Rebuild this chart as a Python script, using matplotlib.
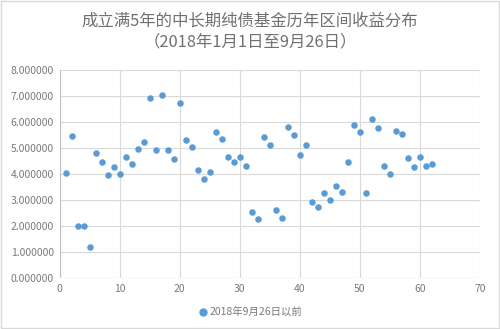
import matplotlib.pyplot as plt
from matplotlib.lines import Line2D
from matplotlib.patches import Rectangle

plt.rcParams['font.family'] = ['Noto Sans CJK SC', 'DejaVu Sans']

# 区间序号与区间收益 (%)
idx = list(range(1, 63))
returns = [
    4.03, 5.45, 2.00, 2.00, 1.20, 4.82, 4.46, 3.95, 4.28, 4.01,
    4.64, 4.37, 4.97, 5.24, 6.92, 4.92, 7.03, 4.92, 4.56, 6.72,
    5.32, 5.05, 4.15, 3.79, 4.09, 5.62, 5.36, 4.64, 4.47, 4.67,
    4.31, 2.54, 2.27, 5.41, 5.10, 2.60, 2.32, 5.81, 5.51, 4.73,
    5.13, 2.94, 2.73, 3.26, 3.00, 3.54, 3.32, 4.46, 5.90, 5.63,
    3.26, 6.13, 5.76, 4.32, 4.01, 5.65, 5.53, 4.63, 4.28, 4.65,
    4.30, 4.40,
]
series_name = '2018年9月26日以前'
title = '成立满5年的中长期纯债基金历年区间收益分布\n（2018年1月1日至9月26日）'

blue = '#5B9BD5'
grid = '#D9D9D9'
text_c = '#707070'

fig = plt.figure(figsize=(5, 3.29), dpi=100)
ax = fig.add_axes([59.5 / 500, 1 - 278 / 329, (480 - 59.5) / 500, (278 - 70) / 329])

ax.scatter(idx, returns, s=22, color=blue, zorder=3, linewidths=0)

ax.set_xlim(0, 70)
ax.set_ylim(0, 8)
ax.set_xticks(range(0, 71, 10))
ax.set_yticks(range(0, 9))
ax.set_yticklabels([f'{v:.6f}' for v in range(0, 9)])
ax.grid(True, color=grid, linewidth=0.8)
ax.set_axisbelow(True)
for s in ax.spines.values():
    s.set_visible(False)
ax.axhline(0, color='#BFBFBF', linewidth=0.8, zorder=2)
ax.axvline(0, color='#BFBFBF', linewidth=0.8, zorder=2)
ax.tick_params(length=0, labelsize=7.5, labelcolor='#7A7A7A', pad=4)

fig.text(0.5, 1 - 31.5 / 329, title, ha='center', va='center',
         fontsize=11.8, color=text_c, linespacing=1.35)

handle = Line2D([], [], marker='o', linestyle='', color=blue, markersize=5)
fig.legend([handle], [series_name], loc='center', bbox_to_anchor=(0.5, 1 - 312 / 329),
           frameon=False, fontsize=7.5, labelcolor='#7A7A7A', handletextpad=0.1,
           handlelength=1)

fig.patches.append(Rectangle((0.002, 0.003), 0.995, 0.994, transform=fig.transFigure,
                             fill=False, edgecolor='#D9D9D9', linewidth=1))

fig.savefig('out.png', dpi=100)
